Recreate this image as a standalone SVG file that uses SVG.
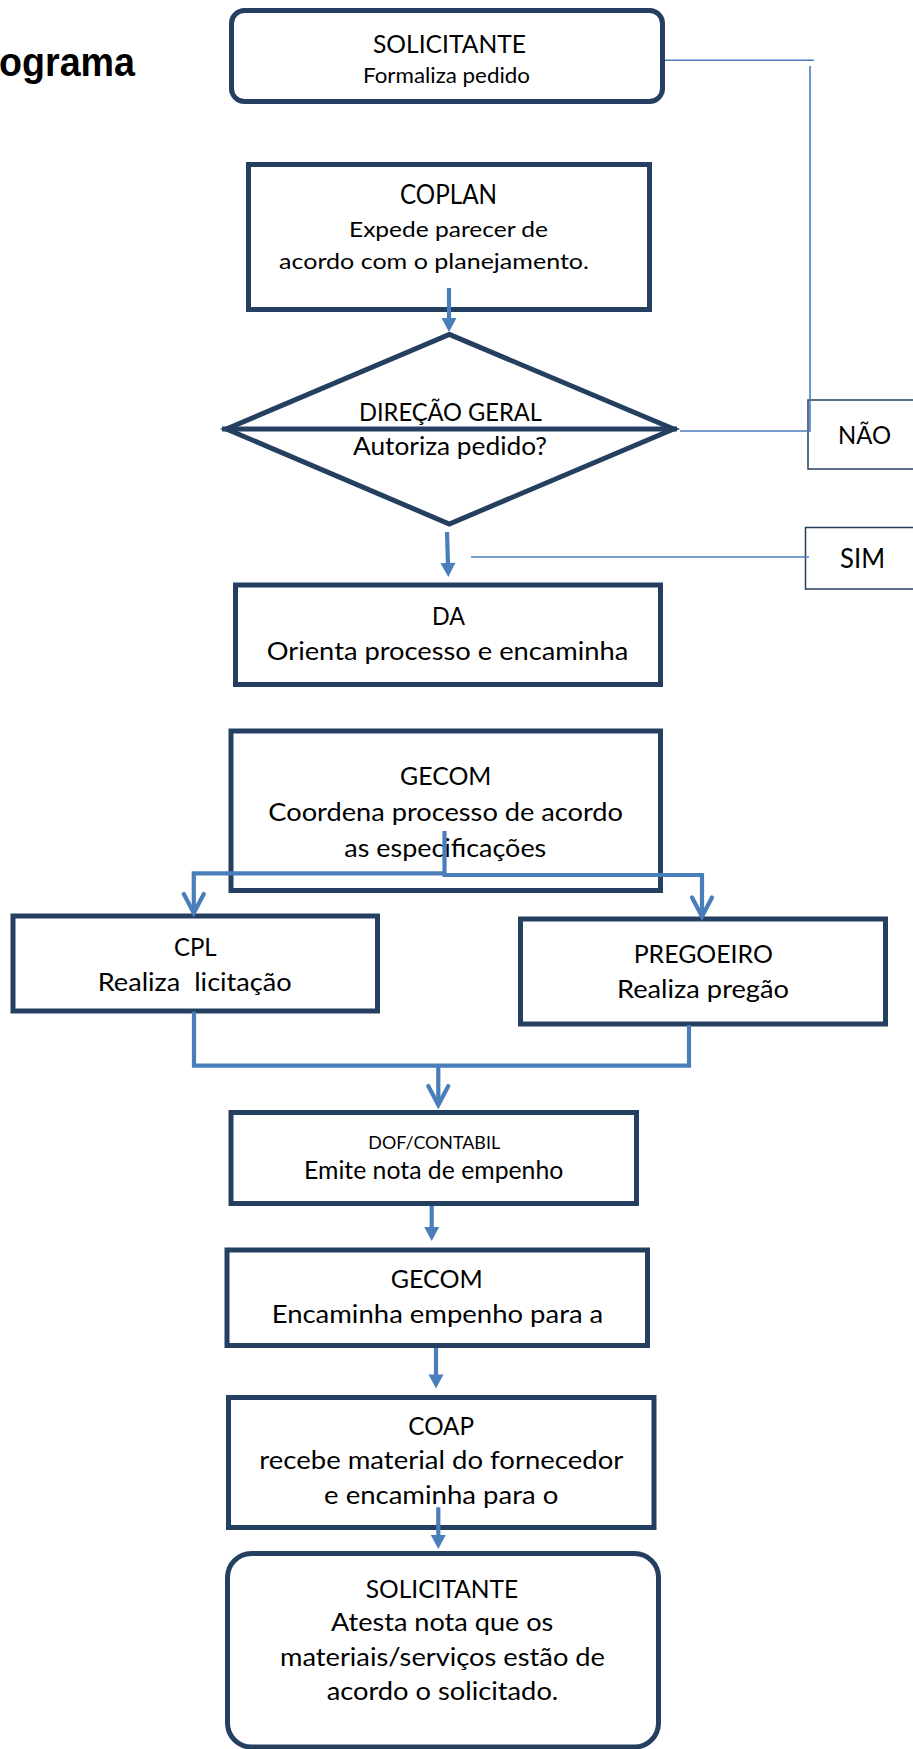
<svg xmlns="http://www.w3.org/2000/svg" width="913" height="1749" viewBox="0 0 913 1749">
<defs>
<style>
.bg{fill:#ffffff}
.box{fill:#ffffff;stroke:#243f60;stroke-width:5}
.tag{fill:#ffffff;stroke:#243f60;stroke-width:1.5}
.t{font-family:Lato,"Open Sans","Liberation Sans",sans-serif;fill:#000000;text-anchor:middle}
.title{font-family:"Liberation Sans",Arial,sans-serif;font-weight:bold;fill:#000000}
.thin{fill:none;stroke:#4a7ebb;stroke-width:1.6}
.thick{fill:none;stroke:#4a7ebb;stroke-width:4.2}
.head{fill:#4a7ebb}
</style>
<marker id="tri" markerUnits="userSpaceOnUse" markerWidth="16" markerHeight="16" refX="2" refY="7.5" orient="auto" overflow="visible">
<path class="head" d="M0,0 L14,7.5 L0,15 Z"/>
</marker>
<marker id="vee" markerUnits="userSpaceOnUse" markerWidth="26" markerHeight="26" refX="20" refY="11" orient="auto" overflow="visible">
<path d="M1,1 L20,11 L1,21" fill="none" stroke="#4a7ebb" stroke-width="4.2" stroke-linecap="round" stroke-linejoin="miter"/>
</marker>
</defs>
<rect class="bg" x="0" y="0" width="913" height="1749"/>

<text class="title" x="135" y="76" font-size="40" text-anchor="end" textLength="136" lengthAdjust="spacingAndGlyphs">ograma</text>

<g id="solicitante1">
<rect class="box" x="231.5" y="10.5" width="431" height="91" rx="13"/>
<text class="t" x="449.5" y="53.3" font-size="25.5" textLength="153" lengthAdjust="spacingAndGlyphs">SOLICITANTE</text>
<text class="t" x="446.5" y="83" font-size="21.5" textLength="167" lengthAdjust="spacingAndGlyphs">Formaliza pedido</text>
</g>

<g id="coplan">
<rect class="box" x="248.5" y="164.5" width="401" height="145"/>
<text class="t" x="448.5" y="204" font-size="26" textLength="97" lengthAdjust="spacingAndGlyphs">COPLAN</text>
<text class="t" x="448.5" y="236.7" font-size="22" textLength="199" lengthAdjust="spacingAndGlyphs">Expede parecer de</text>
<text class="t" x="434" y="269" font-size="22" textLength="310" lengthAdjust="spacingAndGlyphs">acordo com o planejamento.</text>
</g>

<g id="direcao">
<polygon class="box" points="449.3,334.4 673.6,429 449.3,524 226.4,429" stroke-linejoin="miter"/>
<line x1="222" y1="429" x2="677" y2="429" stroke="#243f60" stroke-width="5"/>
<text class="t" x="450.5" y="420.7" font-size="24.5" textLength="183" lengthAdjust="spacingAndGlyphs">DIREÇÃO GERAL</text>
<text class="t" x="450" y="455" font-size="25" textLength="194" lengthAdjust="spacingAndGlyphs">Autoriza pedido?</text>
</g>

<g id="nao">
<rect class="tag" x="808" y="400" width="120" height="69"/>
<text class="t" x="864.5" y="444" font-size="25.5" textLength="53" lengthAdjust="spacingAndGlyphs">NÃO</text>
</g>

<g id="sim">
<rect class="tag" x="805.5" y="527.5" width="120" height="61.5"/>
<text class="t" x="862.5" y="568.3" font-size="26" textLength="45" lengthAdjust="spacingAndGlyphs">SIM</text>
</g>

<g id="da">
<rect class="box" x="235.5" y="585" width="425" height="99.5"/>
<text class="t" x="448.5" y="625" font-size="25" textLength="33" lengthAdjust="spacingAndGlyphs">DA</text>
<text class="t" x="447.5" y="660" font-size="24.5" textLength="361.6" lengthAdjust="spacingAndGlyphs">Orienta processo e encaminha</text>
</g>

<g id="gecom1">
<rect class="box" x="231" y="731" width="429.5" height="159.5"/>
<text class="t" x="445.7" y="785" font-size="25.5" textLength="91.3" lengthAdjust="spacingAndGlyphs">GECOM</text>
<text class="t" x="445.7" y="820.7" font-size="25" textLength="354.7" lengthAdjust="spacingAndGlyphs">Coordena processo de acordo</text>
<text class="t" x="445.3" y="856.7" font-size="25" textLength="202" lengthAdjust="spacingAndGlyphs">as especificações</text>
</g>

<g id="cpl">
<rect class="box" x="13" y="916" width="364.5" height="95"/>
<text class="t" x="195.3" y="956" font-size="25.5" textLength="42.7" lengthAdjust="spacingAndGlyphs">CPL</text>
<text class="t" x="194.7" y="991" font-size="25.5" textLength="194" lengthAdjust="spacingAndGlyphs" xml:space="preserve">Realiza  licitação</text>
</g>

<g id="pregoeiro">
<rect class="box" x="520.5" y="919" width="365" height="105"/>
<text class="t" x="703.3" y="963.3" font-size="25.5" textLength="139.3" lengthAdjust="spacingAndGlyphs">PREGOEIRO</text>
<text class="t" x="703" y="998.3" font-size="25.5" textLength="172" lengthAdjust="spacingAndGlyphs">Realiza pregão</text>
</g>

<g id="dof">
<rect class="box" x="231" y="1112.5" width="405.5" height="91"/>
<text class="t" x="434.2" y="1149" font-size="17" textLength="131.7" lengthAdjust="spacingAndGlyphs">DOF/CONTABIL</text>
<text class="t" x="433.7" y="1179.3" font-size="24.5" textLength="259.3" lengthAdjust="spacingAndGlyphs">Emite nota de empenho</text>
</g>

<g id="gecom2">
<rect class="box" x="227" y="1250" width="420.5" height="95.5"/>
<text class="t" x="436.7" y="1288.3" font-size="25.5" textLength="92" lengthAdjust="spacingAndGlyphs">GECOM</text>
<text class="t" x="437.5" y="1322.7" font-size="25.5" textLength="331.6" lengthAdjust="spacingAndGlyphs">Encaminha empenho para a</text>
</g>

<g id="coap">
<rect class="box" x="228.5" y="1397.5" width="425.5" height="130"/>
<text class="t" x="441.2" y="1435" font-size="25.5" textLength="65.7" lengthAdjust="spacingAndGlyphs">COAP</text>
<text class="t" x="441.3" y="1469.3" font-size="25" textLength="364" lengthAdjust="spacingAndGlyphs">recebe material do fornecedor</text>
<text class="t" x="441.2" y="1504" font-size="25" textLength="234.3" lengthAdjust="spacingAndGlyphs">e encaminha para o</text>
</g>

<g id="solicitante2">
<rect class="box" x="227.5" y="1553.5" width="431" height="193.5" rx="24"/>
<text class="t" x="442" y="1597.7" font-size="25.5" textLength="152.6" lengthAdjust="spacingAndGlyphs">SOLICITANTE</text>
<text class="t" x="442.2" y="1631" font-size="25" textLength="222.3" lengthAdjust="spacingAndGlyphs">Atesta nota que os</text>
<text class="t" x="442.5" y="1665.7" font-size="25" textLength="325" lengthAdjust="spacingAndGlyphs">materiais/serviços estão de</text>
<text class="t" x="442.5" y="1700" font-size="25" textLength="231.6" lengthAdjust="spacingAndGlyphs">acordo o solicitado.</text>
</g>

<g id="connectors">
<line class="thin" x1="665" y1="60.3" x2="814" y2="60.3"/>
<polyline class="thin" points="680,431 810,431 810,66"/>
<line class="thin" x1="471" y1="557" x2="809" y2="557"/>
<line class="thick" x1="449" y1="288" x2="449" y2="320" marker-end="url(#tri)"/>
<line class="thick" x1="447" y1="532" x2="448" y2="565" marker-end="url(#tri)"/>
<line class="thick" x1="444.5" y1="831" x2="444.5" y2="877"/>
<polyline class="thick" points="444.5,873.3 193.8,873.3 193.8,913" marker-end="url(#vee)"/>
<polyline class="thick" points="444.5,875 702,875 702,916.5" marker-end="url(#vee)"/>
<polyline class="thick" points="194,1011.7 194,1065.7 689,1065.7 689,1025"/>
<line class="thick" x1="438.3" y1="1065.7" x2="438.3" y2="1105" marker-end="url(#vee)"/>
<line class="thick" x1="431.7" y1="1206" x2="431.7" y2="1229" marker-end="url(#tri)"/>
<line class="thick" x1="436" y1="1348" x2="436" y2="1376.5" marker-end="url(#tri)"/>
<line class="thick" x1="438.3" y1="1507.3" x2="438.3" y2="1537" marker-end="url(#tri)"/>
</g>
</svg>
